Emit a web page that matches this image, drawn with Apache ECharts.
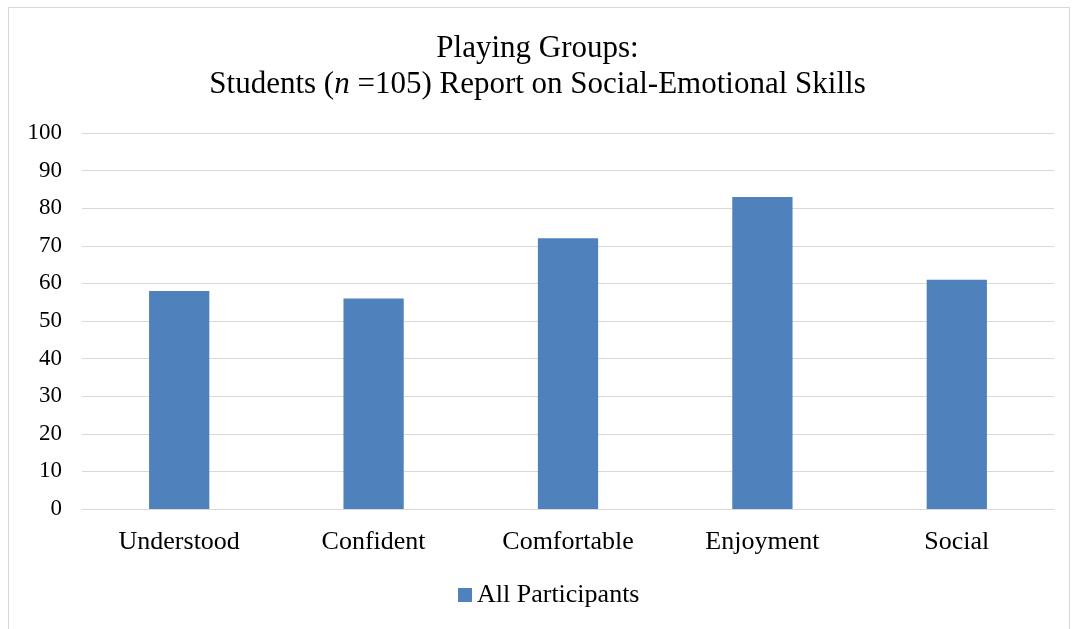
<!DOCTYPE html>
<html>
<head>
<meta charset="utf-8">
<script src="https://cdn.jsdelivr.net/npm/echarts@6/dist/echarts.min.js"></script>
<style>
  html, body { margin: 0; padding: 0; background: #fff; }
  #frame { position: absolute; left: 8px; top: 7px; width: 1062px; height: 630px; border: 1px solid #d9d9d9; box-sizing: border-box; }
  #chart { position: absolute; left: 0; top: 0; width: 1075px; height: 629px; }
</style>
</head>
<body>
<div id="frame"></div>
<div id="chart"></div>
<script>
const categories = ["Understood", "Confident", "Comfortable", "Enjoyment", "Social"];
const seriesName = "All Participants";
const values = [58, 56, 72, 83, 61];

const chart = echarts.init(document.getElementById("chart"));
const serif = "'Liberation Serif', 'Times New Roman', serif";

const option = {
  animation: false,
  textStyle: { fontFamily: serif },
  title: {
    left: "center",
    top: 26,
    text: "Playing Groups:\n{a|Students (}{i|n}{a| =105) Report on Social-Emotional Skills}",
    textStyle: {
      fontFamily: serif,
      fontSize: 31,
      fontWeight: "normal",
      color: "#000",
      lineHeight: 36,
      rich: {
        a: { fontFamily: serif, fontSize: 31, color: "#000", lineHeight: 36 },
        i: { fontFamily: serif, fontSize: 31, color: "#000", fontStyle: "italic", lineHeight: 36 }
      }
    }
  },
  legend: {
    bottom: 16,
    left: 453,
    itemWidth: 14,
    itemHeight: 14,
    itemGap: 8,
    icon: "rect",
    textStyle: { fontFamily: serif, fontSize: 26, color: "#000" },
    data: [seriesName]
  },
  grid: { left: 82, right: 21, top: 133, bottom: 120 },
  xAxis: {
    type: "category",
    data: categories,
    axisLine: { lineStyle: { color: "#d9d9d9", width: 1 } },
    axisTick: { show: false },
    axisLabel: { fontFamily: serif, fontSize: 26, color: "#000", margin: 20 }
  },
  yAxis: {
    type: "value",
    min: 0,
    max: 100,
    interval: 10,
    axisLine: { show: false },
    axisTick: { show: false },
    splitLine: { lineStyle: { color: "#d9d9d9", width: 1 } },
    axisLabel: { fontFamily: serif, fontSize: 23, color: "#000", margin: 20 }
  },
  series: [{
    name: seriesName,
    type: "bar",
    data: values,
    barWidth: "31%",
    itemStyle: { color: "#4f81bd" }
  }]
};

chart.setOption(option);
</script>
</body>
</html>
